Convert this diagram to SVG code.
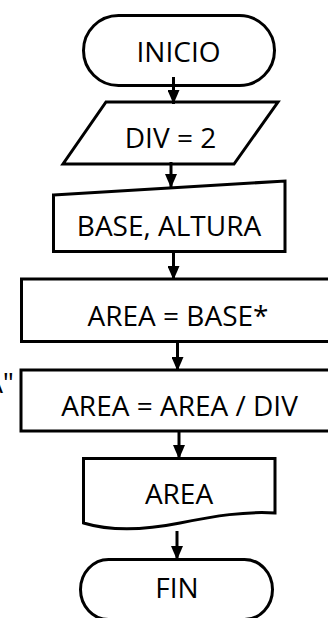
<svg xmlns="http://www.w3.org/2000/svg" width="328" height="618" viewBox="0 0 328 618">
  <defs>
    <style>
      .shape { fill: #ffffff; stroke: #000000; stroke-width: 3; stroke-linejoin: miter; }
      .label { font-family: "Open Sans", "Noto Sans", "DejaVu Sans", sans-serif; font-size: 28px; fill: #000000; text-anchor: middle; }
      .flow { stroke: #000000; stroke-width: 3; fill: none; marker-end: url(#arrow); }
    </style>
    <!-- filled arrowhead, tip at the end of the connector -->
    <marker id="arrow" markerUnits="userSpaceOnUse" markerWidth="14" markerHeight="12" viewBox="0 0 14 12" refX="14" refY="6" orient="auto">
      <path d="M0,0 L14,6 L0,12 Z" fill="#000000"/>
    </marker>
  </defs>

  <rect width="328" height="618" fill="#ffffff"/>

  <!-- start terminal -->
  <g id="inicio">
    <rect class="shape" x="83.5" y="15.5" width="191" height="70" rx="35" ry="35"/>
    <text class="label" x="178.5" y="62">INICIO</text>
  </g>

  <!-- constant assignment (data) -->
  <g id="div">
    <polygon class="shape" points="106,102 278,102 234,164 63,164"/>
    <text class="label" x="170.5" y="148">DIV = 2</text>
  </g>

  <!-- manual input -->
  <g id="entrada">
    <polygon class="shape" points="53.5,195 285,181 285,251.5 53.5,251.5"/>
    <text class="label" x="169" y="236">BASE, ALTURA</text>
  </g>

  <!-- process: product -->
  <g id="producto">
    <rect class="shape" x="21.5" y="279" width="360" height="62.5"/>
    <text class="label" x="178" y="326">AREA = BASE*</text>
    <text class="label" x="14" y="393" style="text-anchor:end">A"</text>
  </g>

  <!-- process: division -->
  <g id="division">
    <rect class="shape" x="21" y="370" width="360" height="61"/>
    <text class="label" x="179.5" y="416">AREA = AREA / DIV</text>
  </g>

  <!-- output document -->
  <g id="salida">
    <path class="shape" d="M83.5,458.5 H275 V513 C245,511 215,516 180,523 C145,530 110,531 83.5,523 Z"/>
    <text class="label" x="179" y="504">AREA</text>
  </g>

  <!-- end terminal -->
  <g id="fin">
    <rect class="shape" x="80.5" y="559.5" width="192" height="60" rx="28" ry="30"/>
    <text class="label" x="177" y="598">FIN</text>
  </g>

  <!-- connectors -->
  <g id="connectors">
    <line class="flow" x1="173.5" y1="77" x2="173.5" y2="104"/>
    <line class="flow" x1="171" y1="162" x2="171" y2="188"/>
    <line class="flow" x1="173.5" y1="251" x2="173.5" y2="280"/>
    <line class="flow" x1="177.5" y1="341" x2="177.5" y2="371"/>
    <line class="flow" x1="179" y1="430" x2="179" y2="459"/>
    <line class="flow" x1="177" y1="531" x2="177" y2="560"/>
  </g>
</svg>
